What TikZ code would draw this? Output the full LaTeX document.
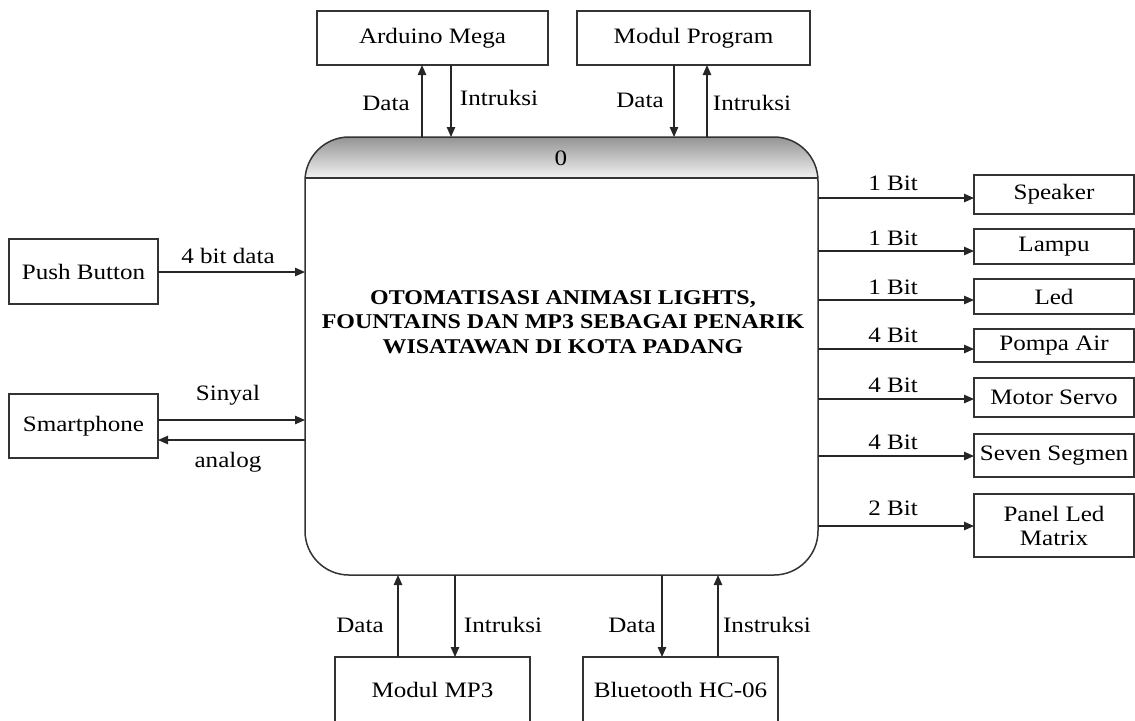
\documentclass[tikz,border=0pt]{standalone}
\usepackage{fontspec}
\setmainfont{Liberation Serif}[FakeStretch=1.14]
\usetikzlibrary{arrows.meta}
\begin{document}
\begin{tikzpicture}[x=0.5pt,y=-0.5pt,
  box/.style={draw=black!80, line width=0.75pt, inner sep=0pt, outer sep=0pt, align=center, font=\fontsize{11}{13}\selectfont},
  lbl/.style={inner sep=0pt, font=\fontsize{11}{13}\selectfont},
  flow/.style={-{Triangle[length=5pt,width=4.2pt]}, line width=0.7pt, draw=black!85},
  proc/.style={draw=black!80, line width=0.75pt, inner sep=0pt, outer sep=0pt, rounded corners=22pt}]
\useasboundingbox (0,0) rectangle (1135,720);

% main process
\begin{scope}
  \clip[rounded corners=22pt] (305,137) rectangle (818,575);
  \shade[top color=black!42, bottom color=black!5] (305,137) rectangle (818,178);
\end{scope}
\node[proc, minimum width=256.5pt, minimum height=219pt] (main) at (561.5,356) {};
\draw[draw=black!80, line width=0.75pt] (main.west |- 0,178) -- (main.east |- 0,178);
\node[lbl] (num) at (561,158) {0};
\node[lbl, align=center, font=\fontsize{10.5}{12.2}\selectfont\bfseries] (title) at (563,322)
  {OTOMATISASI ANIMASI LIGHTS,\\FOUNTAINS DAN MP3 SEBAGAI PENARIK\\WISATAWAN DI KOTA PADANG};

% external entities
\node[box, minimum width=115.5pt, minimum height=27pt] (am) at (432.5,38) {Arduino Mega};
\node[box, minimum width=116.5pt, minimum height=27pt] (mp) at (693.5,38) {Modul Program};
\node[box, minimum width=74.5pt, minimum height=32.5pt] (pb) at (83.5,271.5) {Push Button};
\node[box, minimum width=74.5pt, minimum height=32pt] (sp) at (83.5,426) {Smartphone};
\node[box, minimum width=80pt, minimum height=19.5pt] (spk) at (1054,194.5) {Speaker};
\node[box, minimum width=80pt, minimum height=17.5pt] (lam) at (1054,246.5) {Lampu};
\node[box, minimum width=80pt, minimum height=17.5pt] (led) at (1054,296.5) {Led};
\node[box, minimum width=80pt, minimum height=16.5pt] (pom) at (1054,345.5) {Pompa Air};
\node[box, minimum width=80pt, minimum height=19.5pt] (mot) at (1054,397.5) {Motor Servo};
\node[box, minimum width=80pt, minimum height=21.5pt] (sev) at (1054,455.5) {Seven Segmen};
\node[box, minimum width=80pt, minimum height=31.5pt] (pan) at (1054,525.5) {Panel Led\\[-1pt]Matrix};
\node[box, minimum width=97.5pt, minimum height=32.5pt] (mp3) at (432.5,689.5) {Modul MP3};
\node[box, minimum width=97.5pt, minimum height=32.5pt] (bt) at (680.5,689.5) {Bluetooth HC-06};

% connector guide coordinates
\coordinate (c1) at (422,0);
\coordinate (c2) at (451,0);
\coordinate (c3) at (674,0);
\coordinate (c4) at (707,0);
\coordinate (c5) at (398,0);
\coordinate (c6) at (455,0);
\coordinate (c7) at (662,0);
\coordinate (c8) at (718,0);
\coordinate (r1) at (0,272);
\coordinate (r2) at (0,420);
\coordinate (r3) at (0,440);
\coordinate (s1) at (0,198);
\coordinate (s2) at (0,251);
\coordinate (s3) at (0,300);
\coordinate (s4) at (0,349);
\coordinate (s5) at (0,399);
\coordinate (s6) at (0,456);
\coordinate (s7) at (0,526);

% top
\draw[flow] (main.north -| c1) -- (am.south -| c1);
\draw[flow] (am.south -| c2) -- (main.north -| c2);
\draw[flow] (mp.south -| c3) -- (main.north -| c3);
\draw[flow] (main.north -| c4) -- (mp.south -| c4);
% bottom
\draw[flow] (mp3.north -| c5) -- (main.south -| c5);
\draw[flow] (main.south -| c6) -- (mp3.north -| c6);
\draw[flow] (main.south -| c7) -- (bt.north -| c7);
\draw[flow] (bt.north -| c8) -- (main.south -| c8);
% left
\draw[flow] (pb.east |- r1) -- (main.west |- r1);
\draw[flow] (sp.east |- r2) -- (main.west |- r2);
\draw[flow] (main.west |- r3) -- (sp.east |- r3);
% right
\draw[flow] (main.east |- s1) -- (spk.west |- s1);
\draw[flow] (main.east |- s2) -- (lam.west |- s2);
\draw[flow] (main.east |- s3) -- (led.west |- s3);
\draw[flow] (main.east |- s4) -- (pom.west |- s4);
\draw[flow] (main.east |- s5) -- (mot.west |- s5);
\draw[flow] (main.east |- s6) -- (sev.west |- s6);
\draw[flow] (main.east |- s7) -- (pan.west |- s7);

% labels
\node[lbl] (l1) at (386,103) {Data};
\node[lbl] (l2) at (499,98) {Intruksi};
\node[lbl] (l3) at (640,100) {Data};
\node[lbl] (l4) at (752,103) {Intruksi};
\node[lbl] (l5) at (228,256) {4 bit data};
\node[lbl] (l6) at (228,395) {Sinyal};
\node[lbl] (l7) at (228,462) {analog};
\node[lbl] (l8) at (893,183) {1 Bit};
\node[lbl] (l9) at (893,238) {1 Bit};
\node[lbl] (l10) at (893,287) {1 Bit};
\node[lbl] (l11) at (893,335) {4 Bit};
\node[lbl] (l12) at (893,385) {4 Bit};
\node[lbl] (l13) at (893,442) {4 Bit};
\node[lbl] (l14) at (893,508) {2 Bit};
\node[lbl] (l15) at (360,625) {Data};
\node[lbl] (l16) at (503,625) {Intruksi};
\node[lbl] (l17) at (632,625) {Data};
\node[lbl] (l18) at (767,625) {Instruksi};
\end{tikzpicture}
\end{document}
